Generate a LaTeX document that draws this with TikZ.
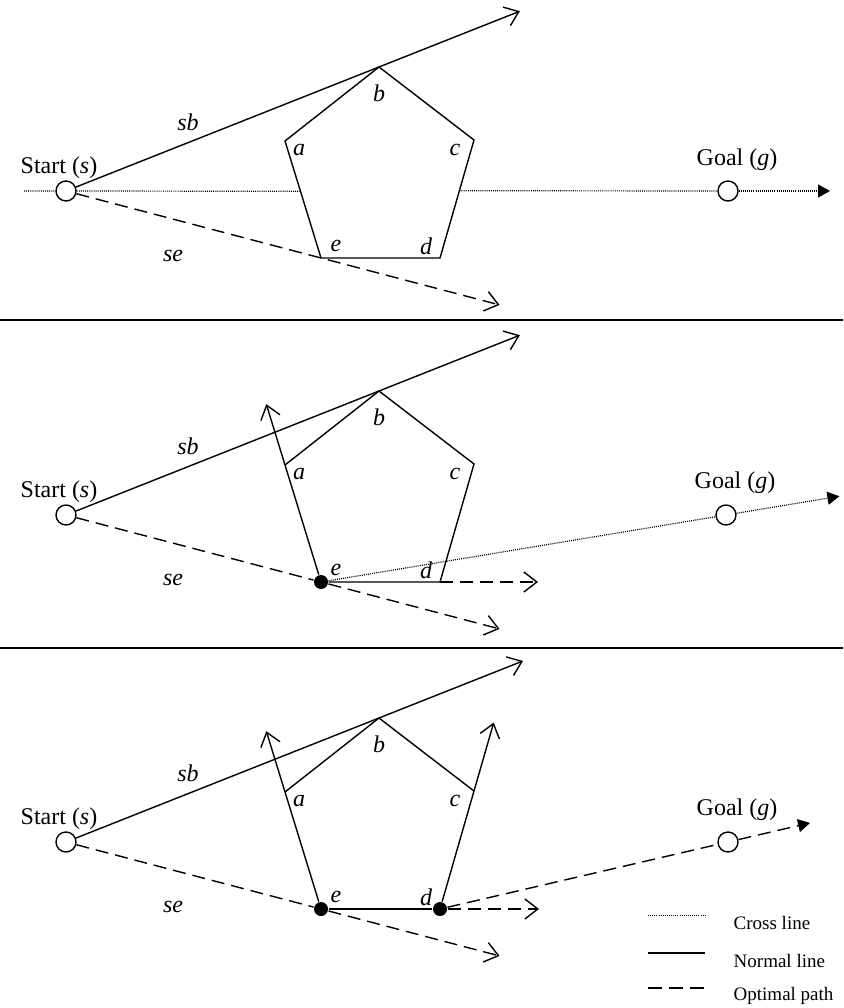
\documentclass[tikz,border=0pt]{standalone}
\usepackage{fontspec}
\setmainfont{Liberation Serif}
\usetikzlibrary{calc,arrows.meta}

% corners of the obstacle and the labels every panel shares
\newcommand{\cornerpoints}{%
  \coordinate (a) at (285,-50);
  \coordinate (b) at (379,-124);
  \coordinate (c) at (474,-51);
  \coordinate (d) at (440,67);
  \coordinate (e) at (321,67);
  \foreach \v/\lx/\ly in {a/299/-41, b/379/-98, c/455/-41, d/426/55, e/336/55}
    \node[vtx] (lab\v) at (\lx,\ly) {\v};
  \node (slab) at (59,-23) {Start (\textit{s})};
  \node (sblab) [vtx] at (188,-69) {sb};
  \node (selab) [vtx] at (173,65) {se};
}

\begin{document}
\begin{tikzpicture}[x=1pt, y=-1pt, line width=1.4pt,
  every node/.style={font=\fontsize{24}{27}\selectfont, inner sep=0pt},
  vtx/.style={font=\fontsize{24}{27}\selectfont\itshape},
  keytext/.style={font=\fontsize{19}{22}\selectfont, anchor=west},
  cross/.style={line width=1.2pt, dash pattern=on 1pt off 1.1pt},
  optimal/.style={dash pattern=on 13pt off 7pt},
  opentip/.style={-{Straight Barb[length=13pt,width=20pt]}},
  filledtip/.style={-{Triangle[length=12pt,width=13pt]}},
  endpoint/.style={draw, circle, minimum size=20pt},
  turn/.style={circle, fill=black, minimum size=14pt}]
\useasboundingbox (0,0) rectangle (843,1008);

% first panel
\begin{scope}[shift={(0,191)}]
  \cornerpoints
  \node[endpoint] (s) at (66,0) {};
  \node[endpoint] (g) at (728,0) {};
  \node (glab) at (737,-31) {Goal (\textit{g})};
  \coordinate (from) at (24,0);
  \coordinate (to) at (830,0);
  \draw (a) -- (b) -- (c) -- (d) -- (e) -- cycle;
  \draw[cross] (from) -- (s) -- ($(a)!0.43!(e)$);
  \draw[cross] ($(c)!0.43!(d)$) -- (g);
  \draw[cross, filledtip] (g) -- (to);
  \draw[opentip] (s) -- ($(s)!1.45!(b)$);
  \draw[optimal, opentip] (s) -- ($(s)!1.7!(e)$);
\end{scope}

\coordinate (cut1w) at (0,320); \coordinate (cut1e) at (843,320);
\draw[line width=1.6pt] (cut1w) -- (cut1e);

% second panel
\begin{scope}[shift={(0,515)}]
  \cornerpoints
  \node[endpoint] (s) at (66,0) {};
  \node[endpoint] (g) at (726,0) {};
  \node (glab) at (735,-32) {Goal (\textit{g})};
  \node[turn] (E) at (e) {};
  \draw (a) -- (b) -- (c) -- (d) -- (E);
  \draw[opentip] (E) -- ($(e)!1.52!(a)$);
  \draw[opentip] (s) -- ($(s)!1.45!(b)$);
  \draw[optimal] (s) -- (E);
  \draw[optimal, opentip] (E) -- ($(s)!1.7!(e)$);
  \draw[optimal, opentip] (d) -- ($(d)+(98,0)$);
  \draw[cross] (E) -- (g);
  \draw[cross, filledtip] (g) -- ($(e)!1.28!(g)$);
\end{scope}

\coordinate (cut2w) at (0,648); \coordinate (cut2e) at (843,648);
\draw[line width=1.6pt] (cut2w) -- (cut2e);

% third panel
\begin{scope}[shift={(0,842)}]
  \cornerpoints
  \node[endpoint] (s) at (66,0) {};
  \node[endpoint] (g) at (728,0) {};
  \node (glab) at (737,-32) {Goal (\textit{g})};
  \node[turn] (E) at (e) {};
  \node[turn] (D) at (d) {};
  \draw (a) -- (b) -- (c);
  \draw (E) -- (D);
  \draw[opentip] (E) -- ($(e)!1.52!(a)$);
  \draw[opentip] (D) -- ($(d)!1.58!(c)$);
  \draw[opentip] (s) -- ($(s)!1.46!(b)$);
  \draw[optimal] (s) -- (E);
  \draw[optimal, opentip] (E) -- ($(s)!1.7!(e)$);
  \draw[optimal, opentip] (D) -- ($(d)+(99,0)$);
  \draw[optimal] (D) -- (g);
  \draw[optimal, filledtip] (g) -- ($(d)!1.285!(g)$);
\end{scope}

% key
\coordinate (k1w) at (648,915); \coordinate (k1e) at (705,915);
\coordinate (k2w) at (648,953); \coordinate (k2e) at (705,953);
\coordinate (k3w) at (648,988); \coordinate (k3e) at (705,988);
\draw[cross, line width=0.8pt] (k1w) -- (k1e);
\draw (k2w) -- (k2e);
\draw[dash pattern=on 14pt off 7pt] (k3w) -- (k3e);
\node[keytext] (kcross) at (733,923) {Cross line};
\node[keytext] (knormal) at (733,961) {Normal line};
\node[keytext] (koptimal) at (733,996) {Optimal path};
\end{tikzpicture}
\end{document}
